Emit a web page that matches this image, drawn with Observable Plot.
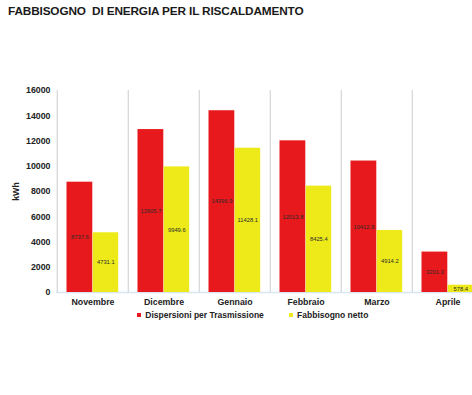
<!DOCTYPE html>
<html>
<head>
<meta charset="utf-8">
<script src="https://cdn.jsdelivr.net/npm/d3@7"></script>
<script src="https://cdn.jsdelivr.net/npm/@observablehq/plot@0.6"></script>
<style>
  html, body { margin: 0; padding: 0; background: #fff; }
  body { width: 472px; height: 395px; position: relative; overflow: hidden; font-family: "Liberation Sans", Arial, sans-serif; }
  #title { position: absolute; left: 8px; top: 4px; font-size: 11.8px; font-weight: bold; color: #1a1a1a; white-space: pre; letter-spacing: -0.15px; }
  #chart { position: absolute; left: 0; top: 0; }
  #legend { position: absolute; left: 137px; top: 298px; }
  #legend div > span { margin-right: 25px !important; }
</style>
</head>
<body>
<div id="chart"></div>
<div id="title">FABBISOGNO  DI ENERGIA PER IL RISCALDAMENTO</div>
<div id="legend"></div>
<script>
const months = ["Novembre", "Dicembre", "Gennaio", "Febbraio", "Marzo", "Aprile"];
const series = ["Dispersioni per Trasmissione", "Fabbisogno netto"];
const dispersioni = [8737.6, 12905.7, 14396.9, 12013.8, 10412.8, 3201.3];
const fabbisogno = [4731.1, 9949.6, 11428.1, 8425.4, 4914.2, 578.4];
const yTicks = [0, 2000, 4000, 6000, 8000, 10000, 12000, 14000, 16000];
const colors = ["#e8191c", "#eeea1a"];

const rowsA = months.map((m, i) => ({month: m, series: series[0], value: dispersioni[i]}));
const rowsB = months.map((m, i) => ({month: m, series: series[1], value: fabbisogno[i]}));

const W = 472, H = 395;
const x0 = 56, step = 71.35;

const plot = Plot.plot({
  width: W,
  height: H,
  marginTop: 90,
  marginBottom: 103,
  marginLeft: x0,
  marginRight: 0,
  style: {fontFamily: "Liberation Sans, Arial, sans-serif", background: "transparent", overflow: "hidden"},
  x: {domain: months, range: [x0, x0 + step * months.length], padding: 0},
  y: {domain: [0, 16000]},
  color: {domain: series, range: colors},
  marks: [
    Plot.ruleX(months, {x: d => d, dx: -step / 2, stroke: "#d8d8d8", strokeWidth: 1.3}),
    Plot.ruleY([0], {stroke: "#d8e6f2", strokeWidth: 1.5}),
    Plot.barY(rowsA, {x: "month", y: "value", fill: "series", insetLeft: 9.5, insetRight: 35.7}),
    Plot.barY(rowsB, {x: "month", y: "value", fill: "series", insetLeft: 35.7, insetRight: 9.8}),
    Plot.text(rowsA, {x: "month", y: d => d.value / 2, text: d => d.value.toFixed(1), dx: -13.1, fontSize: 5.8, fill: "#2a2a2a"}),
    Plot.text(rowsB, {x: "month", y: d => d.value / 2, text: d => d.value.toFixed(1), dx: 12.8, fontSize: 5.8, fill: "#2a2a2a"}),
    Plot.axisY({ticks: yTicks, tickSize: 0, tickPadding: 6, tickFormat: d => String(d), fontSize: 8.8, fontWeight: "bold", fill: "#222",
      label: "kWh", labelAnchor: "center", labelArrow: "none", labelOffset: 44}),
    Plot.axisX({tickSize: 0, tickPadding: 6, fontSize: 8.8, fontWeight: "bold", fill: "#222", label: null})
  ]
});
document.getElementById("chart").appendChild(plot);

const leg = Plot.legend({
  color: {domain: series, range: colors},
  legend: "swatches",
  swatchSize: 4,
  style: {fontFamily: "Liberation Sans, Arial, sans-serif", fontSize: "8.5px", fontWeight: "bold", color: "#222"}
});
document.getElementById("legend").appendChild(leg);
</script>
</body>
</html>
